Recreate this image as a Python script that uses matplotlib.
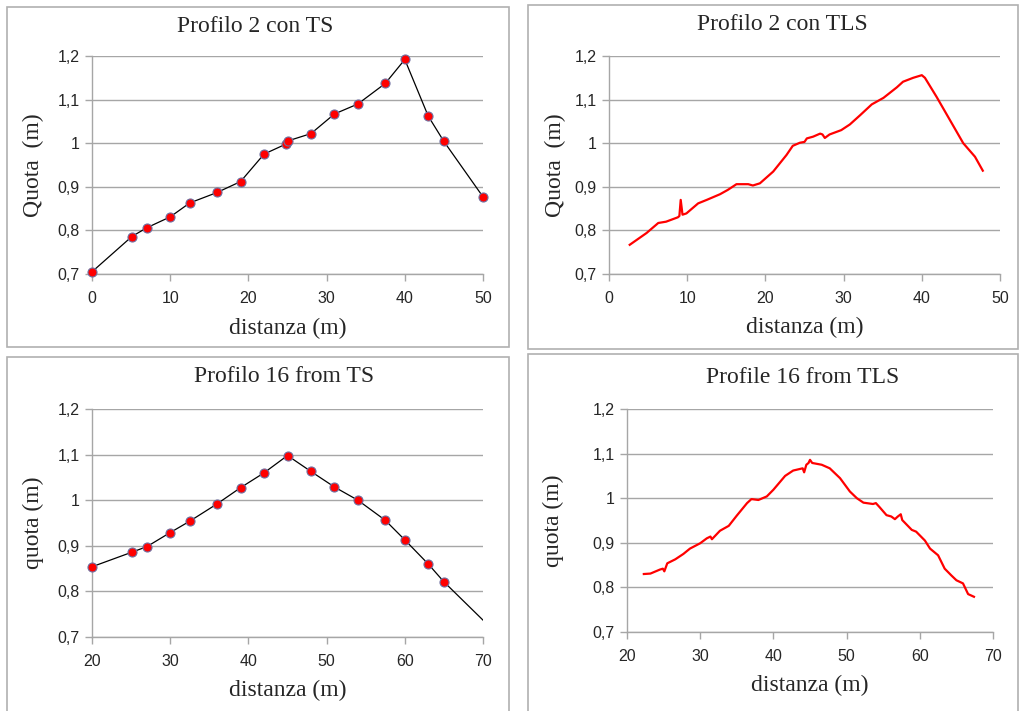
import matplotlib.pyplot as plt
from matplotlib.patches import Rectangle
from matplotlib.ticker import FuncFormatter

# Profilo 2, TS survey points
p2_ts_x = [0, 5.1, 7, 10, 12.5, 16, 19, 22, 24.8, 25, 28, 31, 34, 37.5, 40, 43, 45, 50]
p2_ts_y = [0.705, 0.786, 0.806, 0.831, 0.863, 0.887, 0.912, 0.975, 0.998, 1.005,
           1.022, 1.067, 1.090, 1.137, 1.192, 1.062, 1.004, 0.877]

# Profilo 2, TLS profile
p2_tls_x = [2.65, 4.8, 6.3, 7.3, 8.8, 9.0, 9.17, 9.4, 9.9, 11.4, 12.5, 14.2, 15.2, 16.3,
            17.8, 18.4, 19.3, 21.0, 22.7, 23.5, 24.4, 25.0, 25.3, 26.1, 27.0, 27.3, 27.6,
            28.2, 29.7, 30.8, 32.1, 33.6, 35.1, 36.8, 37.6, 38.9, 40.0, 40.4, 41.9, 43.6,
            45.3, 46.8, 47.8]
p2_tls_y = [0.767, 0.794, 0.817, 0.820, 0.830, 0.833, 0.870, 0.836, 0.839, 0.862, 0.870,
            0.883, 0.893, 0.906, 0.906, 0.903, 0.908, 0.935, 0.973, 0.994, 1.001, 1.003,
            1.011, 1.015, 1.022, 1.020, 1.012, 1.020, 1.030, 1.043, 1.064, 1.089, 1.104,
            1.128, 1.141, 1.150, 1.156, 1.150, 1.106, 1.053, 1.000, 0.969, 0.937]

# Profilo 16, TS survey points (last one has no marker, line runs off the axis)
p16_ts_x = [20, 25.1, 27, 30, 32.5, 36, 39, 42, 45, 48, 51, 54, 57.5, 60, 63, 65, 70]
p16_ts_y = [0.854, 0.886, 0.898, 0.929, 0.954, 0.992, 1.0275, 1.060, 1.098, 1.063,
            1.029, 1.000, 0.956, 0.913, 0.860, 0.821, 0.737]

# Profile 16, TLS profile
p16_tls_x = [22.3, 23.2, 24.5, 24.9, 25.1, 25.5, 26.6, 27.7, 28.6, 30.0, 30.9, 31.4, 31.6,
             32.7, 33.9, 35.0, 36.4, 37.0, 37.95, 39.1, 40.0, 41.6, 42.7, 44.0, 44.2, 44.5,
             44.8, 45.0, 45.3, 46.6, 47.7, 49.1, 50.45, 51.4, 52.3, 53.6, 54.0, 54.5, 55.45,
             56.1, 56.6, 57.0, 57.4, 57.6, 58.9, 59.5, 60.7, 61.4, 62.5, 63.4, 64.3, 65.0,
             65.9, 66.6, 67.4]
p16_tls_y = [0.830, 0.831, 0.840, 0.842, 0.836, 0.854, 0.863, 0.875, 0.887, 0.899, 0.910,
             0.914, 0.908, 0.927, 0.938, 0.961, 0.989, 0.998, 0.996, 1.004, 1.019, 1.050,
             1.062, 1.067, 1.058, 1.075, 1.079, 1.086, 1.079, 1.075, 1.067, 1.045, 1.015,
             1.000, 0.990, 0.987, 0.989, 0.980, 0.962, 0.959, 0.953, 0.959, 0.964, 0.951,
             0.929, 0.925, 0.905, 0.887, 0.872, 0.842, 0.827, 0.816, 0.809, 0.785, 0.779]

y_ticks = [0.7, 0.8, 0.9, 1.0, 1.1, 1.2]

SERIF = 'Liberation Serif'
SANS = 'Liberation Sans'
GRID = '#a6a6a6'
TXT = '#262626'


def it_fmt(v, pos):
    s = f"{v:.1f}".replace('.', ',')
    return '1' if s == '1,0' else s


fig = plt.figure(figsize=(10.22, 7.11), dpi=100)

# panel frames (pixel boxes -> figure fraction)
W, H = 1022, 711
for (x0, y0, x1, y1) in [(7, 7, 509, 347), (528, 5, 1018, 349),
                         (7, 357, 509, 720), (528, 354, 1018, 720)]:
    fig.patches.append(Rectangle((x0 / W, 1 - y1 / H), (x1 - x0) / W, (y1 - y0) / H,
                                 transform=fig.transFigure, fill=False,
                                 edgecolor='#b0b0b0', lw=1.2))


def make_axes(rect, xlim, xticks, title, ylabel, title_xy, xlabel_y, ylabel_x):
    ax = fig.add_axes(rect)
    ax.set_xlim(*xlim)
    ax.set_ylim(0.7, 1.2)
    ax.set_xticks(xticks)
    ax.set_yticks(y_ticks)
    ax.yaxis.set_major_formatter(FuncFormatter(it_fmt))
    ax.grid(axis='y', color=GRID, lw=1.0)
    ax.set_axisbelow(True)
    for s in ['top', 'right']:
        ax.spines[s].set_visible(False)
    for s in ['left', 'bottom']:
        ax.spines[s].set_color(GRID)
        ax.spines[s].set_linewidth(1.0)
    ax.tick_params(direction='out', length=5, width=1.0, color=GRID,
                   labelsize=11.5, labelcolor=TXT)
    ax.tick_params(axis='x', pad=7)
    ax.tick_params(axis='y', pad=4)
    for lab in ax.get_xticklabels() + ax.get_yticklabels():
        lab.set_fontfamily(SANS)
    l, b, w, h = rect
    fig.text(title_xy[0] / W, 1 - title_xy[1] / H, title, family=SERIF, fontsize=17,
             color=TXT, ha='center', va='center')
    fig.text(l + w / 2, 1 - xlabel_y / H, 'distanza (m)', family=SERIF, fontsize=17,
             color=TXT, ha='center', va='center')
    fig.text(ylabel_x / W, b + h / 2, ylabel, family=SERIF, fontsize=17,
             color=TXT, ha='center', va='center', rotation=90)
    return ax


def frac(x0, y0, x1, y1):
    return [x0 / W, 1 - y1 / H, (x1 - x0) / W, (y1 - y0) / H]


ax1 = make_axes(frac(92, 56, 483, 274), (0, 50), range(0, 51, 10),
                'Profilo 2 con TS', 'Quota  (m)', (255, 27), 328, 33)
ax1.plot(p2_ts_x, p2_ts_y, color='black', lw=0.9, marker='o', ms=6.5,
         mfc='red', mec='#6f6fa0', mew=0.8, clip_on=False, zorder=3)

ax2 = make_axes(frac(609, 56, 1000, 274), (0, 50), range(0, 51, 10),
                'Profilo 2 con TLS', 'Quota  (m)', (782, 24), 327, 555)
ax2.plot(p2_tls_x, p2_tls_y, color='red', lw=1.6, zorder=3)

ax3 = make_axes(frac(92, 409, 483, 637), (20, 70), range(20, 71, 10),
                'Profilo 16 from TS', 'quota (m)', (284, 377), 690, 33)
ax3.plot(p16_ts_x, p16_ts_y, color='black', lw=0.9, zorder=3)
ax3.plot(p16_ts_x[:-1], p16_ts_y[:-1], ls='none', marker='o', ms=6.5,
         mfc='red', mec='#6f6fa0', mew=0.8, clip_on=False, zorder=4)

ax4 = make_axes(frac(627, 409, 993, 632), (20, 70), range(20, 71, 10),
                'Profile 16 from TLS', 'quota (m)', (803, 378), 685, 553)
ax4.plot(p16_tls_x, p16_tls_y, color='red', lw=1.6, zorder=3)

fig.savefig('out.png', dpi=100, facecolor='white')
